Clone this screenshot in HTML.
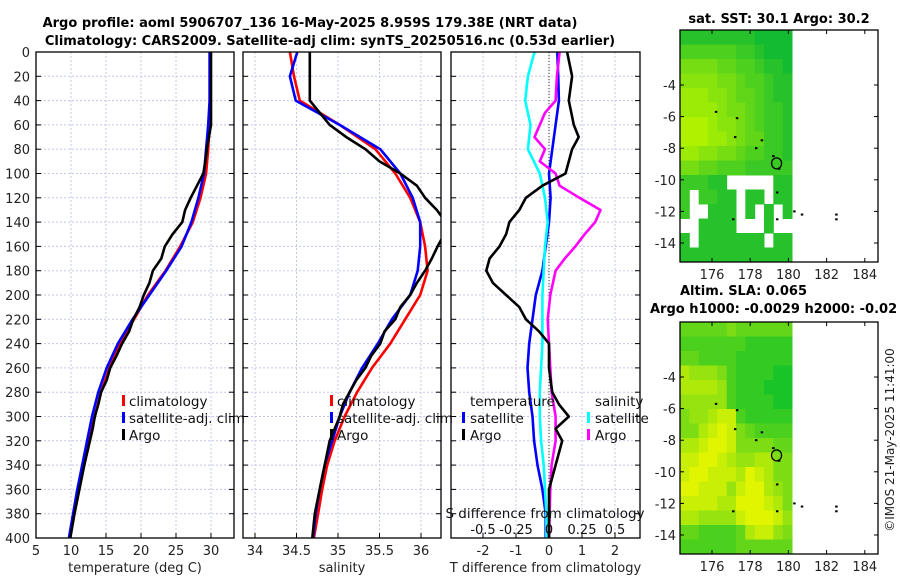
<!DOCTYPE html>
<html><head><meta charset="utf-8">
<style>
body{margin:0;background:#fff;}
svg{display:block;font-family:"DejaVu Sans","Liberation Sans",sans-serif;}
</style></head>
<body>
<svg id="chart" width="900" height="580" viewBox="0 0 900 580" xmlns="http://www.w3.org/2000/svg">
<text x="310" y="27" text-anchor="middle" font-size="13" font-weight="bold">Argo profile: aoml 5906707_136 16-May-2025 8.959S 179.38E (NRT data)</text>
<text x="330" y="45" text-anchor="middle" font-size="13" font-weight="bold">Climatology: CARS2009. Satellite-adj clim: synTS_20250516.nc (0.53d earlier)</text>
<text x="779" y="23" text-anchor="middle" font-size="13" font-weight="bold">sat. SST: 30.1 Argo: 30.2</text>
<text x="680" y="295" font-size="13" font-weight="bold">Altim. SLA: 0.065</text>
<text x="650" y="313" font-size="13" font-weight="bold">Argo h1000: -0.0029 h2000: -0.02</text>
<text transform="translate(894,440) rotate(-90)" text-anchor="middle" font-size="12" fill="#222">©IMOS 21-May-2025 11:41:00</text>
<g id="g"></g>
</svg>
<script>
const depths=[0,20,40,60,80,100,120,140,160,180,200,220,240,260,280,300,320,340,360,380,400];
const tempClim=[29.9,29.9,29.9,29.8,29.6,29.3,28.5,27.4,25.6,23.5,21.0,19.0,17.0,15.5,14.3,13.4,12.6,11.8,11.1,10.4,9.8];
const tempSat=[29.8,29.8,29.8,29.6,29.3,29.0,28.2,27.2,25.8,23.6,21.2,18.8,16.7,15.1,13.9,13.0,12.3,11.6,10.9,10.3,9.7];
const argoDepths=[0,20,40,60,70,80,90,100,110,120,130,140,150,160,170,180,190,200,210,220,230,240,250,260,270,280,290,300,310,320,340,360,380,400];
const tempArgo=[30.0,30.0,30.0,30.0,29.7,29.4,29.2,28.9,28.0,27.1,26.3,25.9,24.5,23.4,22.9,21.7,21.2,20.4,19.8,18.9,18.3,17.3,16.5,15.6,15.1,14.3,13.9,13.4,13.1,12.7,11.9,11.2,10.5,9.9];
const salClim=[34.42,34.47,34.54,35.02,35.45,35.69,35.87,35.99,36.05,36.08,35.99,35.81,35.63,35.41,35.23,35.08,34.96,34.87,34.81,34.76,34.71];
const salSat=[34.51,34.42,34.49,35.02,35.51,35.75,35.90,35.99,35.99,35.96,35.87,35.65,35.48,35.29,35.14,35.02,34.93,34.84,34.78,34.73,34.70];
const salArgo=[34.66,34.66,34.66,34.90,35.10,35.33,35.50,35.75,35.95,36.05,36.19,36.30,36.28,36.20,36.13,36.05,35.95,35.87,35.75,35.69,35.56,35.51,35.40,35.33,35.22,35.14,35.06,35.02,34.96,34.90,34.84,34.78,34.72,34.69];
const tdiffArgo=[0.55,0.7,0.6,0.75,0.9,0.7,0.6,0.5,-0.2,-0.7,-0.9,-1.2,-1.3,-1.5,-1.8,-1.9,-1.7,-1.3,-0.9,-0.7,-0.3,0,0,0,0.05,0.1,0.3,0.6,0.2,0.4,0.2,0,0,0];
const tdiffSat=[0.25,0.28,0.3,0.2,0.1,0,0.05,0,-0.1,-0.2,-0.4,-0.5,-0.6,-0.65,-0.6,-0.5,-0.45,-0.35,-0.2,-0.1,-0.1];
const sdiffSat=[-0.11,-0.16,-0.18,-0.14,-0.16,-0.07,-0.03,-0.01,-0.03,-0.04,-0.05,-0.05,-0.05,-0.06,-0.07,-0.07,-0.06,-0.04,-0.03,-0.02,-0.02];
const sdiffArgoDepths=[0,20,40,50,60,70,80,90,100,110,120,130,140,150,160,170,180,200,220,260,280,300,320,340,360,400];
const sdiffArgo=[0.08,0.06,0.05,-0.03,-0.07,-0.11,-0.03,-0.07,0.05,0.08,0.23,0.39,0.35,0.27,0.2,0.12,0.05,0.01,-0.01,0.01,0.02,0.05,0.05,0.02,0.01,0];
const yTicks=[0,20,40,60,80,100,120,140,160,180,200,220,240,260,280,300,320,340,360,380,400];
const tTicks=[5,10,15,20,25,30];
const sTicks=[34,34.5,35,35.5,36];
const dTicks=[-2,-1,0,1,2];
const sdTickLabels=["-0.5","-0.25","0","0.25","0.5"];
const sdTicks=[-0.5,-0.25,0,0.25,0.5];
const lonTicks=[176,178,180,182,184];
const latTicks=[-4,-6,-8,-10,-12,-14];
const sstGrid=["222222221111","444444332111","666655443221","777766544322","888776554322","888876654332","999877654332","999887655332","887766544332","665544433333","33322.....22","3.3322.22.22","3..222.2.2.2","..2222...2..","2.2222222.22","222222222222"];
const slaGrid=["444445444444","333333322222","443333222222","766653222211","777763222111","666663222211","566788322222","557898543333","778998555544","889987667755","899888798755","998886899765","888877999875","776666899986","443333478865","333333444444"];
const coastLon=[176.2,177.3,177.2,178.6,178.3,179.2,179.5,179.4,180.3,180.7,182.5,182.5,179.4,177.1];
const coastLat=[-5.7,-6.1,-7.3,-7.5,-8.0,-8.5,-9.3,-10.8,-12.0,-12.2,-12.2,-12.5,-12.5,-12.5];
const argoLon=179.38, argoLat=-8.959;

const NS="http://www.w3.org/2000/svg";
const g=document.getElementById('g');
function mk(tag,attrs,parent){const e=document.createElementNS(NS,tag);for(const k in attrs)e.setAttribute(k,attrs[k]);(parent||g).appendChild(e);return e;}
const Y0=52,Y1=538;
const yS=d=>Y0+(d/400)*(Y1-Y0);
const xT=v=>36+(v-5)*7;
const xS=v=>255+(v-34)*83;
const xD=v=>549+v*33;
const xSD=v=>549+v*132;

function panel(name,x0,x1,xf,ticks,labels,xlabel,showY){
  const pg=mk('g',{});
  
  
  yTicks.forEach(t=>{const l=mk('line',{x1:x0,x2:x1,y1:yS(t),y2:yS(t),stroke:'#c4c8e8','stroke-width':1,'stroke-dasharray':'2,2'},pg);
    
    mk('line',{x1:x0,x2:x0+5,y1:yS(t),y2:yS(t),stroke:'#000'},pg);mk('line',{x1:x1-5,x2:x1,y1:yS(t),y2:yS(t),stroke:'#000'},pg);
    if(showY){const tx=mk('text',{x:30,y:yS(t)+5,'text-anchor':'end','font-size':13,fill:'#222'},pg);tx.textContent=t;
      }
  });
  ticks.forEach((t,i)=>{const x=xf(t);const l=mk('line',{x1:x,x2:x,y1:Y0,y2:Y1,stroke:'#c4c8e8','stroke-dasharray':'2,2'},pg);
    
    mk('line',{x1:x,x2:x,y1:Y1-5,y2:Y1,stroke:'#000'},pg);
    const tx=mk('text',{x:x,y:555,'text-anchor':'middle','font-size':13,fill:'#222'},pg);tx.textContent=labels[i];
    });
  const xl=mk('text',{x:(x0+x1)/2,y:572,'text-anchor':'middle','font-size':13,fill:'#222'},pg);xl.textContent=xlabel;
  
  return pg;
}
function frame(x0,x1){const r=mk('rect',{x:x0,y:Y0,width:x1-x0,height:Y1-Y0,fill:'none',stroke:'#000','stroke-width':1.3});}
function line(xs,ds,xf,color,name,clip){const p=xs.map((v,i)=>xf(v).toFixed(1)+','+yS(ds[i]).toFixed(1)).join(' ');
  const e=mk('polyline',{points:p,fill:'none',stroke:color,'stroke-width':2.6,'stroke-linejoin':'round'});
  if(clip)e.setAttribute('clip-path',clip);
  }
function legText(x,y,t,name){const e=mk('text',{x:x,y:y,'font-size':13.5,fill:'#111'});e.textContent=t;}
function legMark(x,y,c,name){const e=mk('rect',{x:x,y:y-11,width:3,height:11,fill:c});}

const defs=mk('defs',{});
[['c1',36,234],['c2',243,441],['c3',451,640]].forEach(([id,a,b])=>{const cp=mk('clipPath',{id:id},defs);mk('rect',{x:a,y:Y0,width:b-a,height:Y1-Y0},cp);});

// Panel 1
panel('temperature-panel',36,234,xT,tTicks,tTicks.map(String),'temperature (deg C)',true);
line(tempClim,depths,xT,'#f00','temp-climatology-line','url(#c1)');
line(tempSat,depths,xT,'#00f','temp-satellite-line','url(#c1)');
line(tempArgo,argoDepths,xT,'#000','temp-argo-line','url(#c1)');
frame(36,234);
legMark(122,406,'#f00','legend-climatology-marker');legText(129,406,'climatology','legend-climatology');
legMark(122,423,'#00f','legend-satellite-marker');legText(129,423,'satellite-adj. clim','legend-satellite');
legMark(122,440,'#000','legend-argo-marker');legText(129,440,'Argo','legend-argo');

// Panel 2
panel('salinity-panel',243,441,xS,sTicks,['34','34.5','35','35.5','36'],'salinity',false);
line(salClim,depths,xS,'#f00','sal-climatology-line','url(#c2)');
line(salSat,depths,xS,'#00f','sal-satellite-line','url(#c2)');
line(salArgo,argoDepths,xS,'#000','sal-argo-line','url(#c2)');
frame(243,441);
legMark(330,406,'#f00','legend-climatology-marker');legText(337,406,'climatology','legend-climatology');
legMark(330,423,'#00f','legend-satellite-marker');legText(337,423,'satellite-adj. clim','legend-satellite');
legMark(330,440,'#000','legend-argo-marker');legText(337,440,'Argo','legend-argo');

// Panel 3
panel('difference-panel',451,640,xD,dTicks,dTicks.map(String),'T difference from climatology',false);
const zl=mk('line',{x1:549,x2:549,y1:Y0,y2:Y1,stroke:'#333','stroke-dasharray':'1,2'});
line(tdiffSat,depths,xD,'#00f','tdiff-satellite-line','url(#c3)');
line(sdiffSat,depths,xSD,'#0ff','sdiff-satellite-line','url(#c3)');
line(sdiffArgo,sdiffArgoDepths,xSD,'#f0f','sdiff-argo-line','url(#c3)');
line(tdiffArgo,argoDepths,xD,'#000','tdiff-argo-line','url(#c3)');
frame(451,640);
legText(470,406,'temperature','legend-temperature-header');legText(595,406,'salinity','legend-salinity-header');
legMark(462,423,'#00f','legend-t-satellite-marker');legText(470,423,'satellite','legend-t-satellite');
legMark(462,440,'#000','legend-t-argo-marker');legText(470,440,'Argo','legend-t-argo');
legMark(587,423,'#0ff','legend-s-satellite-marker');legText(595,423,'satellite','legend-s-satellite');
legMark(587,440,'#f0f','legend-s-argo-marker');legText(595,440,'Argo','legend-s-argo');
const sdt=mk('text',{x:545,y:518,'text-anchor':'middle','font-size':13.5,fill:'#111'});sdt.textContent='S difference from climatology';

sdTicks.forEach((t,i)=>{const e=mk('text',{x:xSD(t),y:534,'text-anchor':'middle','font-size':13,fill:'#111'});e.textContent=sdTickLabels[i];
  });

// Maps
const lonX=l=>712+(l-176)*19.1;
function map(name,top,grid,c0,c1){
  const latY=la=>top+55+(-4-la)*15.8;
  const mg=mk('g',{});
  const x0=680,w=112,h=232,cw=w/12,ch=h/16;
  grid.forEach((row,r)=>{[...row].forEach((c,k)=>{if(c==='.')return;const v=+c/9;
    const col=`rgb(${Math.round(c0[0]+(c1[0]-c0[0])*v)},${Math.round(c0[1]+(c1[1]-c0[1])*v)},${Math.round(c0[2]+(c1[2]-c0[2])*v)})`;
    const e=mk('rect',{x:(x0+k*cw).toFixed(2),y:(top+r*ch).toFixed(2),width:(cw+0.5).toFixed(2),height:(ch+0.5).toFixed(2),fill:col},mg);
    });});
  coastLon.forEach((lo,i)=>{const e=mk('rect',{x:lonX(lo)-1,y:latY(coastLat[i])-1,width:2.5,height:2,fill:'#000'},mg);
    });
  const ci=mk('ellipse',{cx:lonX(argoLon),cy:latY(argoLat),rx:5,ry:5.5,fill:'none',stroke:'#000','stroke-width':1.3},mg);
  
  const fr=mk('rect',{x:680,y:top,width:198,height:h,fill:'none',stroke:'#000','stroke-width':1.3},mg);
  
  latTicks.forEach(t=>{const y=latY(t);mk('line',{x1:680,x2:684,y1:y,y2:y,stroke:'#000'},mg);mk('line',{x1:874,x2:878,y1:y,y2:y,stroke:'#000'},mg);
    const e=mk('text',{x:676,y:y+5,'text-anchor':'end','font-size':13,fill:'#222'},mg);e.textContent=t;
    });
  lonTicks.forEach(t=>{const x=lonX(t);mk('line',{x1:x,x2:x,y1:top+h-4,y2:top+h,stroke:'#000'},mg);mk('line',{x1:x,x2:x,y1:top,y2:top+4,stroke:'#000'},mg);
    const e=mk('text',{x:x,y:top+h+17,'text-anchor':'middle','font-size':13,fill:'#222'},mg);e.textContent=t;
    });
}
map('sst-map',30,sstGrid,[0,180,55],[175,242,0]);
map('sla-map',322,slaGrid,[0,190,45],[225,245,0]);
</script>
</body></html>
